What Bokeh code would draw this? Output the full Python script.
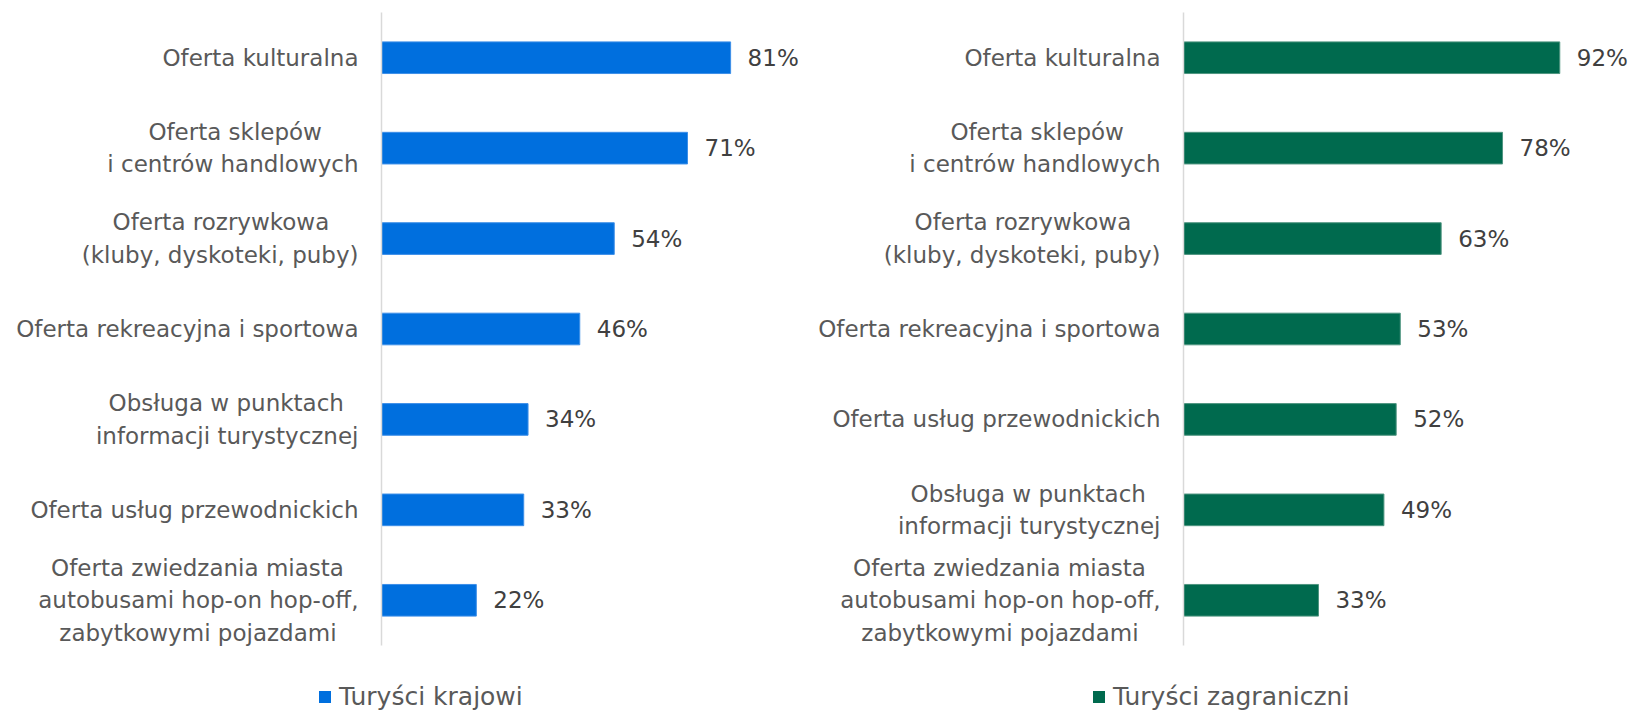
from bokeh.plotting import figure
from bokeh.layouts import row, column
from bokeh.models import ColumnDataSource, LabelSet, Legend, LegendItem, FactorRange, Range1d
from bokeh.core.properties import value
from bokeh.embed import file_html
from bokeh.resources import INLINE

# ---- data ----
cats_left = [
    "Oferta kulturalna",
    "Oferta sklepów\ni centrów handlowych",
    "Oferta rozrywkowa\n(kluby, dyskoteki, puby)",
    "Oferta rekreacyjna i sportowa",
    "Obsługa w punktach\ninformacji turystycznej",
    "Oferta usług przewodnickich",
    "Oferta zwiedzania miasta\nautobusami hop-on hop-off,\nzabytkowymi pojazdami",
]
vals_left = [81, 71, 54, 46, 34, 33, 22]

cats_right = [
    "Oferta kulturalna",
    "Oferta sklepów\ni centrów handlowych",
    "Oferta rozrywkowa\n(kluby, dyskoteki, puby)",
    "Oferta rekreacyjna i sportowa",
    "Oferta usług przewodnickich",
    "Obsługa w punktach\ninformacji turystycznej",
    "Oferta zwiedzania miasta\nautobusami hop-on hop-off,\nzabytkowymi pojazdami",
]
vals_right = [92, 78, 63, 53, 52, 49, 33]

series_left = "Turyści krajowi"
series_right = "Turyści zagraniczni"

FONT = "DejaVu Sans"
CAT_COLOR = "#595959"
VAL_COLOR = "#404040"
MAIN_H = 650
LEG_H = 61

# trailing no-break spaces per line so that multi-line labels look centred
# (axis labels are right-aligned line by line)
LINE_PADS = {
    "Oferta sklepów": 5,
    "Oferta rozrywkowa": 4,
    "Obsługa w punktach": 2,
    "Oferta zwiedzania miasta": 2,
    "zabytkowymi pojazdami": 3,
}


def centred(label):
    lines = label.split("\n")
    if len(lines) == 1:
        return label
    return "\n".join(l + "\u00a0" * LINE_PADS.get(l, 0) for l in lines)


def make_panel(cats, vals, color, line_color, width, border_left, x_end):
    shown = [centred(c) for c in cats]
    src = ColumnDataSource(dict(cat=shown, val=vals, lab=[f"{v}%" for v in vals]))
    p = figure(
        width=width, height=MAIN_H,
        y_range=FactorRange(*list(reversed(shown))),
        x_range=Range1d(0, x_end),
        output_backend="svg", toolbar_location=None,
        min_border_left=border_left, min_border_right=0,
        min_border_top=12, min_border_bottom=5,
    )
    p.hbar(y="cat", right="val", height=0.35, source=src,
           fill_color=color, line_color=line_color, line_width=1)
    labels = LabelSet(x="val", y="cat", text="lab", source=src, x_offset=17,
                      text_baseline="middle", text_align="left",
                      text_font=value(FONT), text_font_size="23px", text_color=VAL_COLOR)
    p.add_layout(labels)

    p.xaxis.visible = False
    p.xgrid.visible = False
    p.ygrid.visible = False
    p.outline_line_color = None
    ax = p.yaxis[0]
    ax.axis_line_color = "#d9d9d9"
    ax.axis_line_width = 1.5
    ax.major_tick_line_color = None
    ax.minor_tick_line_color = None
    ax.major_tick_out = 0
    ax.major_tick_in = 0
    ax.major_label_standoff = 23
    ax.major_label_text_font = FONT
    ax.major_label_text_font_size = "23px"
    ax.major_label_text_color = CAT_COLOR
    ax.major_label_text_line_height = 1.25
    return p


def make_legend(name, color, width, legend_x):
    p = figure(width=width, height=LEG_H, x_range=Range1d(0, 1), y_range=Range1d(0, 1),
               output_backend="svg", toolbar_location=None,
               min_border_left=0, min_border_right=0, min_border_top=0, min_border_bottom=0)
    p.xaxis.visible = False
    p.yaxis.visible = False
    p.xgrid.visible = False
    p.ygrid.visible = False
    p.outline_line_color = None
    # off-screen swatch source, only used for the legend marker
    dummy = ColumnDataSource(dict(y=[-5], right=[-5]))
    r = p.hbar(y="y", right="right", height=0.5, source=dummy,
               fill_color=color, line_color=None)
    leg = Legend(items=[LegendItem(label=name, renderers=[r])],
                 location=(legend_x, 0), orientation="horizontal",
                 padding=0, margin=0, border_line_color=None,
                 background_fill_alpha=0, glyph_width=15, glyph_height=15,
                 label_standoff=7, label_text_font=FONT,
                 label_text_font_size="25px", label_text_color=CAT_COLOR)
    p.add_layout(leg, "center")
    return p


left = make_panel(cats_left, vals_left, "#006FDE", "#3d8fe8",
                  width=808, border_left=381, x_end=427 / 4.31)
right = make_panel(cats_right, vals_right, "#006A4E", "#4f9580",
                   width=827, border_left=375, x_end=452 / 4.09)
leg_left = make_legend(series_left, "#006FDE", 808, 317)
leg_right = make_legend(series_right, "#006A4E", 827, 283)

layout = column(row(left, right), row(leg_left, leg_right), spacing=0)
open("out.html", "w").write(file_html(layout, INLINE))
